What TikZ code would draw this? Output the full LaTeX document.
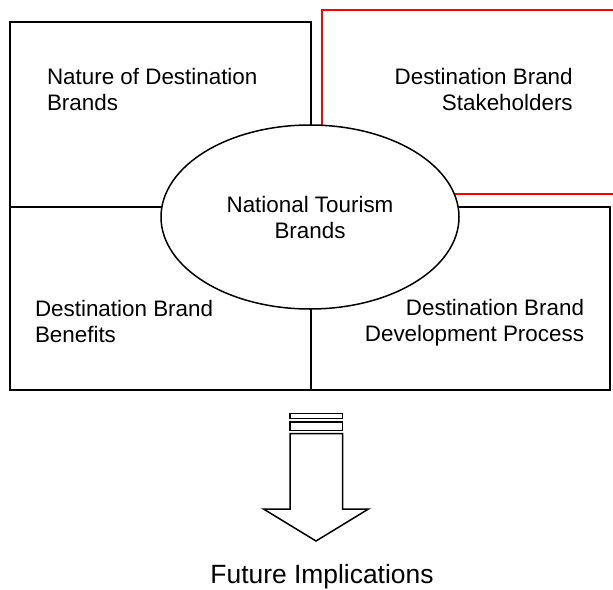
\documentclass[tikz,border=0pt]{standalone}
\usepackage{fontspec}
\setmainfont{Liberation Sans}
\usetikzlibrary{shapes.geometric}
\begin{document}
\begin{tikzpicture}[x=1pt,y=-1pt,
  box/.style={draw=black,line width=2pt,inner sep=0pt,outer sep=0pt},
  redbox/.style={draw=red,line width=2pt,inner sep=0pt,outer sep=0pt},
  lbl/.style={inner sep=0pt,outer sep=0pt,font=\fontsize{22.4}{26}\selectfont},
  bigarrow/.style={draw=black,line width=1.5pt,fill=white,line join=miter},
]
\useasboundingbox (0,0) rectangle (613,589);
\clip (0,0) rectangle (613,589);
% quadrant boxes
\node[box, minimum width=300.5pt, minimum height=185pt] (tl) at (160.25,114) {};
\node[redbox, minimum width=318.5pt, minimum height=184pt] (tr) at (480.75,101.5) {};
\node[box, minimum width=300.5pt, minimum height=183.5pt] (bl) at (160.25,298.25) {};
\node[box, minimum width=299.5pt, minimum height=183.5pt] (br) at (460.25,298.25) {};
% central ellipse
\node[ellipse, draw, line width=1.5pt, fill=white, minimum width=298pt, minimum height=184pt,
      inner sep=0pt, align=center, font=\fontsize{22.4}{26}\selectfont] (core) at (310,217)
      {National Tourism\\Brands};
% labels (base anchor = baseline of the last line)
\node[lbl, align=left, anchor=base west] (nature) at (47,110) {Nature of Destination\\Brands};
\node[lbl, align=right, anchor=base east] (stake) at (572.7,110) {Destination Brand\\Stakeholders};
\node[lbl, align=left, anchor=base west] (benef) at (35,342.5) {Destination Brand\\Benefits};
\node[lbl, align=right, anchor=base east] (devel) at (584,341.5) {Destination Brand\\Development Process};
% arrow
\draw[bigarrow] (290,413.5) rectangle (342.5,418.5);
\draw[bigarrow] (290,422) rectangle (342.5,430.5);
\draw[bigarrow] (290,433.5) -- (290,509) -- (263.5,509) -- (316,541) -- (368.5,509)
  -- (342.5,509) -- (342.5,433.5) -- cycle;
\node[inner sep=0pt, anchor=base, font=\fontsize{26.4}{30}\selectfont] (future) at (322,583.3) {Future Implications};
\end{tikzpicture}
\end{document}
